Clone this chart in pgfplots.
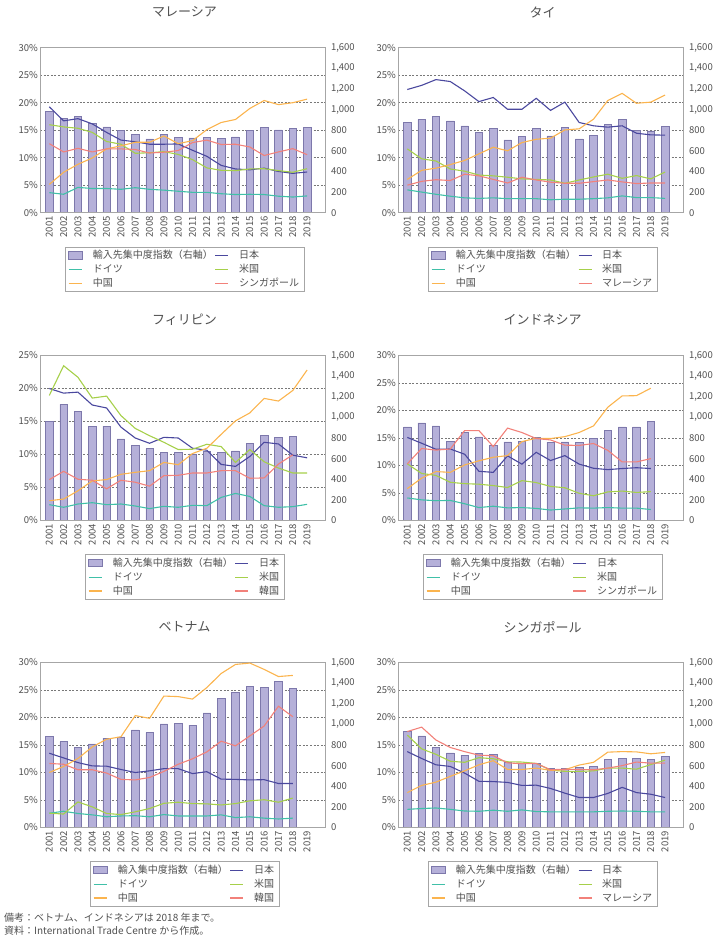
\documentclass[border=0pt]{standalone}
\usepackage{fontspec}
\setmainfont{Noto Sans CJK JP}
\usepackage{pgfplots}
\usepackage{pgfplotstable}
\pgfplotsset{compat=1.18}
\definecolor{barfill}{RGB}{181,176,217}
\definecolor{baredge}{RGB}{125,120,171}
\definecolor{cjp}{RGB}{74,72,158}
\definecolor{cde}{RGB}{64,192,168}
\definecolor{cus}{RGB}{166,208,74}
\definecolor{ccn}{RGB}{251,180,78}
\definecolor{cot}{RGB}{242,129,122}
\definecolor{framec}{RGB}{166,166,166}
\definecolor{txt}{RGB}{80,80,80}
\definecolor{gridc}{RGB}{120,120,120}

\pgfplotstableread{
year bar jp de us cn ot
2001 981 19.25 3.65 16.0 5.15 12.55
2002 913 16.7 3.35 15.6 7.35 11.05
2003 933 17.1 4.6 15.35 8.8 11.7
2004 868 16.15 4.4 14.6 9.95 11.05
2005 832 14.6 4.4 12.95 11.6 11.6
2006 797 13.2 4.25 12.45 12.15 11.6
2007 761 12.9 4.55 10.8 12.8 11.5
2008 716 12.45 4.25 10.9 12.8 10.85
2009 758 12.45 4.1 11.1 13.95 11.0
2010 729 12.5 3.9 10.6 12.55 11.3
2011 725 11.35 3.7 9.65 13.1 12.75
2012 732 10.25 3.7 8.15 15.1 13.2
2013 719 8.6 3.45 7.7 16.4 12.4
2014 735 7.95 3.3 7.65 16.95 12.45
2015 797 7.8 3.35 7.95 18.95 11.95
2016 826 8.1 3.3 8.0 20.4 10.4
2017 803 7.5 3.0 7.65 19.65 11.05
2018 819 7.15 2.85 7.35 20.0 11.65
2019 826 7.4 3.05 8.0 20.65 10.55
}\tmy

\pgfplotstableread{
year bar jp de us cn ot
2001 874 22.4 4.15 11.6 6.05 5.0
2002 904 23.15 3.75 9.8 7.7 5.7
2003 933 24.2 3.35 9.4 8.1 6.0
2004 891 23.85 3.0 7.95 8.75 5.85
2005 842 22.15 2.7 7.55 9.5 7.0
2006 777 20.2 2.6 6.85 10.7 6.7
2007 816 20.95 2.7 6.7 11.9 6.05
2008 706 18.8 2.55 6.45 11.25 5.4
2009 738 18.8 2.55 6.15 12.75 6.45
2010 816 20.8 2.55 6.05 13.35 5.95
2011 745 18.6 2.35 5.95 13.55 5.55
2012 826 20.1 2.45 5.35 15.05 5.35
2013 716 16.4 2.45 5.95 15.25 5.35
2014 751 15.8 2.55 6.5 17.0 5.65
2015 858 15.55 2.7 7.0 20.4 5.95
2016 904 15.8 3.05 6.25 21.7 5.6
2017 800 14.45 2.75 6.75 19.9 5.3
2018 793 14.15 2.75 6.15 20.1 5.4
2019 836 14.1 2.6 7.4 21.4 5.4
}\tth

\pgfplotstableread{
year bar jp de us cn ot
2001 960 20.0 2.4 18.95 3.0 6.2
2002 1125 19.3 2.0 23.45 3.25 7.45
2003 1060 19.45 2.5 21.7 4.5 6.25
2004 915 17.5 2.7 18.55 6.0 6.1
2005 915 17.05 2.4 18.85 6.2 4.8
2006 792 14.15 2.5 15.9 7.0 6.1
2007 730 12.5 2.2 13.95 7.3 5.8
2008 698 11.7 1.8 12.85 7.55 5.2
2009 663 12.6 2.15 11.85 8.8 6.8
2010 663 12.5 2.0 10.75 8.45 6.85
2011 646 10.95 2.3 10.8 10.15 7.2
2012 669 10.65 2.25 11.55 10.95 7.2
2013 659 8.5 3.5 11.2 13.05 7.55
2014 676 8.2 4.1 8.8 15.1 7.55
2015 750 9.7 3.65 10.75 16.3 6.4
2016 827 11.85 2.25 8.9 18.5 6.45
2017 805 11.6 2.0 7.95 18.1 8.55
2018 818 9.9 2.1 7.2 19.7 9.95
2019 nan 9.5 2.45 7.2 22.8 nan
}\tph

\pgfplotstableread{
year bar jp de us cn ot
2001 908 15.1 4.1 10.3 5.8 10.3
2002 947 14.05 3.75 8.55 7.7 13.1
2003 918 12.95 3.6 8.2 8.9 12.8
2004 769 13.0 3.65 6.95 8.75 13.0
2005 853 12.05 3.05 6.7 10.1 16.35
2006 811 8.95 2.35 6.6 10.85 16.35
2007 727 8.75 2.6 6.35 11.5 13.45
2008 763 11.75 2.3 6.0 11.8 16.8
2009 769 10.25 2.35 7.25 14.35 16.0
2010 808 12.4 2.2 6.9 14.95 14.9
2011 760 10.9 1.9 6.2 14.9 14.65
2012 763 11.8 2.1 5.95 15.25 13.7
2013 756 10.25 2.3 4.95 16.0 13.65
2014 798 9.5 2.25 4.5 17.2 14.0
2015 876 9.25 2.35 5.2 20.6 12.75
2016 908 9.45 2.25 5.35 22.65 10.65
2017 908 9.6 2.25 5.1 22.7 10.65
2018 960 9.45 2.0 5.25 24.05 11.25
}\tid

\pgfplotstableread{
year bar jp de us cn ot
2001 885 13.5 2.6 2.6 10.0 11.65
2002 834 12.65 2.95 2.45 11.1 11.5
2003 776 11.8 2.55 4.65 12.55 10.5
2004 811 11.2 2.3 3.75 14.65 10.5
2005 866 11.15 1.95 2.55 16.05 9.9
2006 879 10.55 2.1 2.35 16.5 8.75
2007 946 10.0 2.15 2.85 20.35 8.65
2008 921 10.3 1.95 3.45 19.85 9.1
2009 1004 10.7 2.35 4.4 23.9 10.2
2010 1011 10.7 2.1 4.6 23.8 11.5
2011 992 9.8 2.1 4.35 23.35 12.5
2012 1111 10.15 2.1 4.3 25.45 13.75
2013 1249 8.8 2.3 4.1 28.0 15.7
2014 1313 8.75 1.8 4.35 29.65 14.85
2015 1371 8.65 1.95 4.85 29.9 16.65
2016 1359 8.7 1.7 5.05 28.75 18.45
2017 1416 8.0 1.55 4.6 27.45 22.05
2018 1352 8.0 1.7 5.35 27.65 20.15
}\tvn

\pgfplotstableread{
year bar jp de us cn ot
2001 930 13.8 3.3 16.8 6.35 17.45
2002 889 12.55 3.45 14.3 7.65 18.25
2003 779 11.4 3.55 13.3 8.25 15.9
2004 724 11.1 3.3 12.05 9.3 14.55
2005 702 9.9 3.0 11.85 10.3 13.8
2006 718 8.4 2.95 12.7 11.4 13.15
2007 708 8.35 3.15 12.5 12.15 13.05
2008 631 8.2 2.95 11.95 10.55 11.75
2009 621 7.65 3.2 11.9 10.55 11.6
2010 625 7.7 2.9 11.65 10.8 11.65
2011 576 7.1 2.85 10.45 10.4 10.5
2012 573 6.25 2.85 10.2 10.5 10.6
2013 586 5.45 2.85 10.2 11.35 10.55
2014 596 5.45 2.85 10.3 11.85 10.5
2015 663 6.2 2.95 10.8 13.7 10.8
2016 673 7.3 3.0 10.8 13.8 11.25
2017 670 6.35 2.95 10.6 13.75 11.9
2018 663 6.05 2.85 11.45 13.4 11.7
2019 689 5.45 2.85 12.25 13.65 11.7
}\tsg

\pgfplotsset{
 common/.style={scale only axis, width=285pt, height=165pt, anchor=north west,
   xmin=2000.35, xmax=2020.25, ymin=0, major tick length=0pt,
   /pgf/number format/assume math mode=true,
   tick label style={font=\fontsize{9.5}{11}\selectfont, text=txt},
   axis line style={framec, line width=0.8pt}},
 barax/.style={common, ymax=1600, axis y line*=right, axis x line=none,
   ytick={0,200,...,1600}, yticklabel style={xshift=2.5pt},
   extra y tick labels={},
   extra y tick style={grid=major, major grid style={gridc, dash pattern=on 2pt off 1.6pt, line width=0.6pt}}},
 lineax/.style={common, xtick={2001,...,2019},
   x tick label style={rotate=90, anchor=east, /pgf/number format/1000 sep={}},
   ytick={0,5,...,30}, yticklabel={\pgfmathprintnumber{\tick}\%},
   yticklabel style={xshift=1.5pt},
   legend columns=2, legend cell align=left,
   legend style={at={(0.507,-0.205)}, anchor=north, draw=framec, line width=0.7pt,
     font=\fontsize{10}{12}\selectfont, text=txt,
     /tikz/every odd column/.append style={column sep=8pt},
     inner xsep=3pt, inner ysep=1.5pt},
   legend image code/.code={\draw[#1, line width=1.3pt] (0pt,0pt) -- (13pt,0pt);}},
 lw/.style={line width=1.1pt, no marks}
}

\newcommand{\panel}[8]{%
\begin{axis}[barax, at={(#1pt,-#2pt)}, extra y ticks={#4}]
\addplot[ybar, bar width=7.5pt, fill=barfill, draw=baredge, line width=0.5pt] table[x=year,y=bar]{#3};
\end{axis}
\begin{axis}[lineax, at={(#1pt,-#2pt)}, ymax=#5]
\addlegendimage{legend image code/.code={\draw[fill=barfill,draw=baredge,line width=0.5pt] (0pt,-3.5pt) rectangle (14pt,4pt);}}
\addlegendentry{#7}
\addplot[cjp,lw] table[x=year,y=jp]{#3}; \addlegendentry{日本}
\addplot[cde,lw] table[x=year,y=de]{#3}; \addlegendentry{ドイツ}
\addplot[cus,lw] table[x=year,y=us]{#3}; \addlegendentry{米国}
\addplot[ccn,lw] table[x=year,y=cn]{#3}; \addlegendentry{中国}
\addplot[cot,lw] table[x=year,y=ot]{#3}; \addlegendentry{#8}
\end{axis}
\node[font=\fontsize{13}{15}\selectfont, text=txt] at ({#1pt+144.5pt},{-#2pt+35.5pt}) {#6};
}

\begin{document}
\begin{tikzpicture}
\path[use as bounding box] (0pt,0pt) rectangle (720pt,-939pt);
\panel{40}{47.7}{\tmy}{266.667,533.333,800,1066.667,1333.333}{30}{マレーシア}{輸入先集中度指数（右軸）}{シンガポール}
\panel{398}{47.7}{\tth}{266.667,533.333,800,1066.667,1333.333}{30}{タイ}{輸入先集中度指数（右軸）}{マレーシア}
\panel{40}{355.5}{\tph}{320,640,960,1280}{25}{フィリピン}{輸入先集中度指数（右軸）}{韓国}
\panel{398}{355.5}{\tid}{266.667,533.333,800,1066.667,1333.333}{30}{インドネシア}{輸入先集中度指数（右軸）}{シンガポール}
\panel{40}{662.5}{\tvn}{266.667,533.333,800,1066.667,1333.333}{30}{ベトナム}{輸入集中度指数（右軸）}{韓国}
\panel{398}{662.5}{\tsg}{266.667,533.333,800,1066.667,1333.333}{30}{シンガポール}{輸入先集中度指数（右軸）}{マレーシア}
\node[anchor=west, font=\fontsize{10}{12}\selectfont, text=txt, inner sep=0pt] at (4pt,-918pt) {備考：ベトナム、インドネシアは 2018 年まで。};
\node[anchor=west, font=\fontsize{10}{12}\selectfont, text=txt, inner sep=0pt] at (4pt,-930.5pt) {資料：International Trade Centre から作成。};
\end{tikzpicture}
\end{document}
